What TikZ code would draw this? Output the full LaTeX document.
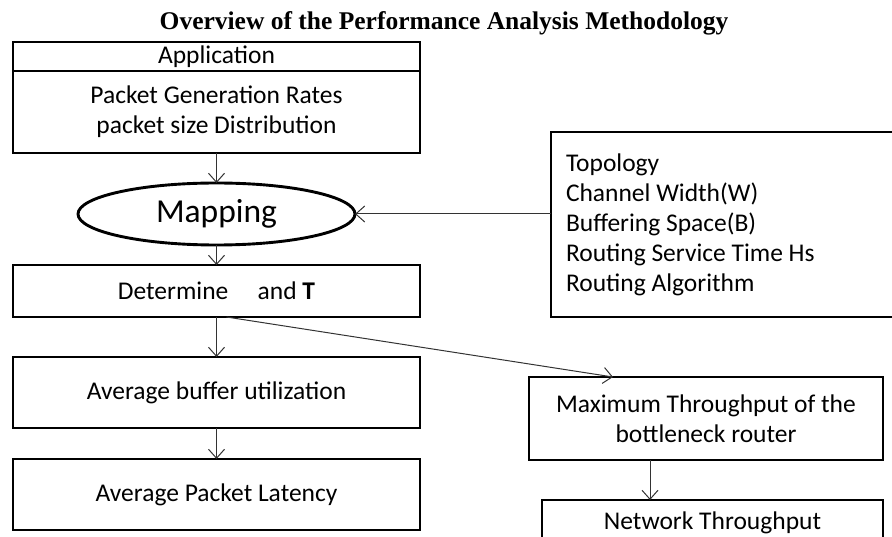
\documentclass[tikz,border=0pt]{standalone}
\usepackage{fontspec}
\setmainfont{Carlito}
\newfontfamily\titlefont{Liberation Serif}
\usetikzlibrary{positioning,shapes.geometric,arrows.meta}

\begin{document}
\begin{tikzpicture}[x=1pt,y=-1pt,
        box/.style = {
            draw,
            line width=2.9pt,
            outer sep=0pt,
            align=center,
            minimum width=407pt,
            font=\fontsize{25.5}{30}\selectfont
        },
        flow/.style = {-{Straight Barb[length=9pt,width=16pt]}, line width=1pt, black!80},
        node distance=30pt]

    \useasboundingbox (0,0) rectangle (892,537);
    \clip (0,0) rectangle (892,537);

    \node[font=\titlefont\bfseries\fontsize{25.5}{30}\selectfont] (title) at (444,23) {Overview of the Performance Analysis Methodology};

    \node[box, minimum height=29pt, inner sep=0pt] (appl) at (216.5,56.5) {Application};
    \node[box, minimum height=82pt, below=0pt of appl] (rates) {Packet Generation Rates\\packet size Distribution};
    \node[ellipse, draw, line width=2.9pt, outer sep=0pt, minimum width=277pt, minimum height=62pt, inner sep=0pt,
          font=\fontsize{33.5}{38}\selectfont, below=30pt of rates] (map) {Mapping};
    \node[box, minimum height=52pt, below=20pt of map] (det) {Determine\hspace{1.15em}and \textbf{T}};
    \node[box, minimum height=71pt, below=40pt of det] (buf) {Average buffer utilization};
    \node[box, minimum height=71pt, below=31pt of buf] (lat) {Average Packet Latency};

    \node[box, minimum width=354pt, minimum height=185pt, text width=324pt, inner xsep=15pt, align=flush left] (params) at (728,224.5)
        {Topology\\Channel Width(W)\\Buffering Space(B)\\Routing Service Time Hs\\Routing Algorithm};
    \node[box, minimum width=354pt, minimum height=83pt] (maxt) at (706,418.5) {Maximum Throughput of the\\bottleneck router};
    \node[box, minimum width=341pt, minimum height=45pt] (net) at (712.5,522.5) {Network Throughput};

    \draw[flow] (rates) -- (map);
    \draw[flow] (map.east -| params.west) -- (map.east);
    \draw[flow] (map) -- (det);
    \draw[flow] (det) -- (buf);
    \draw[flow] (buf) -- (lat);
    \draw[flow] ([xshift=10pt]det.south) -- ([xshift=-93pt]maxt.north);
    \draw[flow] ([xshift=-56pt]maxt.south) -- ([xshift=-56pt]maxt.south |- net.north);
\end{tikzpicture}
\end{document}
